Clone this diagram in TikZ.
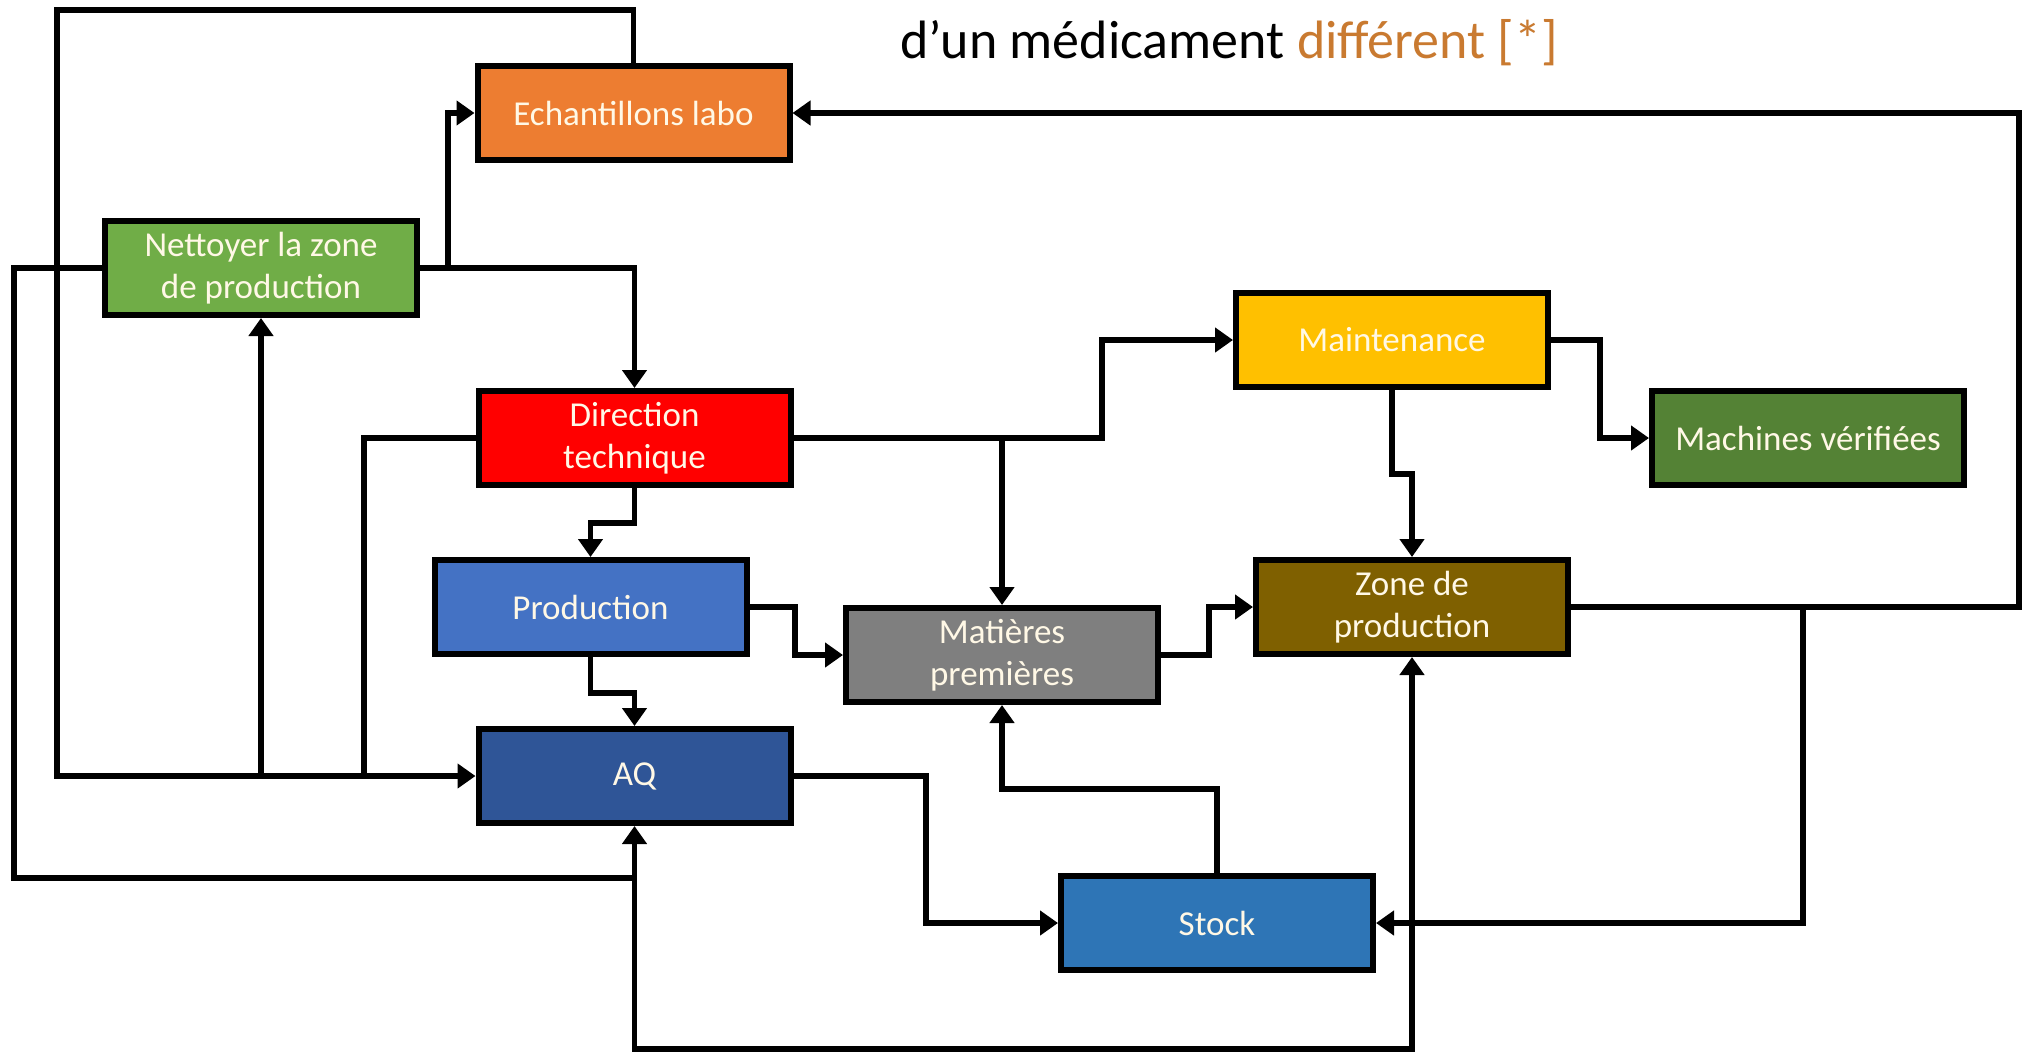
\documentclass[tikz,border=0pt]{standalone}
\usepackage{fontspec}
\setmainfont{Carlito}
\usetikzlibrary{arrows.meta}
\definecolor{cOrange}{HTML}{ED7D31}
\definecolor{cGreen}{HTML}{70AD47}
\definecolor{cRed}{HTML}{FF0000}
\definecolor{cProd}{HTML}{4472C4}
\definecolor{cGray}{HTML}{7F7F7F}
\definecolor{cAQ}{HTML}{2F5597}
\definecolor{cStock}{HTML}{2E75B6}
\definecolor{cZone}{HTML}{7F6000}
\definecolor{cMaint}{HTML}{FFC000}
\definecolor{cMach}{HTML}{548235}
\definecolor{cTxt}{HTML}{FFF8E6}
\definecolor{cTitleOr}{HTML}{C97A30}
\begin{document}
\begin{tikzpicture}[x=1pt,y=-1pt,
  box/.style={draw=black, line width=6pt, minimum width=312pt, minimum height=94pt,
    inner sep=0pt, align=center, text=cTxt, font=\fontsize{35}{42}\selectfont},
  conn/.style={line width=5.5pt, draw=black},
  arr/.style={conn, -{Triangle[length=18pt,width=24pt]}},
  darr/.style={conn, {Triangle[length=18pt,width=24pt]}-{Triangle[length=18pt,width=24pt]}}]
\useasboundingbox (0,0) rectangle (2025,1053);
\fill[white] (0,0) rectangle (2025,1053);

% title
\node[anchor=base west, inner sep=0pt, font=\fontsize{54}{64}\selectfont] (title) at (900,58)
  {d’un médicament \textcolor{cTitleOr}{différent [*]}};

% boxes
\node[box, fill=cOrange] (ech) at (633.5,113) {Echantillons labo};
\node[box, fill=cGreen] (net) at (261,268) {Nettoyer la zone\\de production};
\node[box, fill=cRed] (dir) at (634.5,438) {Direction\\technique};
\node[box, fill=cProd] (prod) at (590.5,607) {Production};
\node[box, fill=cGray] (mat) at (1002,655) {Matières\\premières};
\node[box, fill=cAQ] (aq) at (634.5,776) {AQ};
\node[box, fill=cStock] (stock) at (1217,923) {Stock};
\node[box, fill=cZone] (zone) at (1412,607) {Zone de\\production};
\node[box, fill=cMaint] (maint) at (1392,340) {Maintenance};
\node[box, fill=cMach] (mach) at (1808,438) {Machines vérifiées};

% connectors
\coordinate (topL) at (57,10);
\draw[arr] (ech.north) |- (topL) |- (aq.west);
\draw[conn] (dir.west) -| (364,776);
\draw[arr] (net.south |- aq.west) -- (net.south);

\coordinate (netR) at (448,268);
\draw[arr] (net.east) -| (dir.north);
\draw[arr] (netR) |- (ech.west);

\draw[conn] (net.west) -| (14,878) -- (aq.south |- 14,878);
\draw[darr] (aq.south) |- (zone.south |- 0,1049) -- (zone.south);

\draw[arr] (dir.south) -- ++(0,35) -| (prod.north);
\draw[arr] (prod.south) -- ++(0,36) -| (aq.north);
\draw[arr] (prod.east) -- (795,607) |- (mat.west);

\draw[arr] (dir.east) -- (1102,438) |- (maint.west);
\draw[arr] (mat.north |- dir.east) -- (mat.north);

\draw[arr] (mat.east) -- (1209,655) |- (zone.west);
\draw[arr] (maint.east) -- (1600,340) |- (mach.west);
\draw[arr] (maint.south) -- ++(0,84) -| (zone.north);

\draw[arr] (zone.east) -- (2019,607) |- (ech.east);
\draw[arr] (1803,607) |- (stock.east);
\draw[arr] (aq.east) -- (926,776) |- (stock.west);
\draw[arr] (stock.north) |- (mat.south |- 0,789) -- (mat.south);
\end{tikzpicture}
\end{document}
